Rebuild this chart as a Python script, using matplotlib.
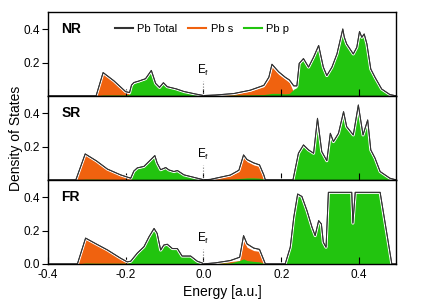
import numpy as np
import matplotlib
matplotlib.use('Agg')
import matplotlib.pyplot as plt
import matplotlib.patheffects as pe
from matplotlib.lines import Line2D

plt.rcParams['font.family'] = ['Liberation Sans', 'DejaVu Sans']

# --- NR panel ---
E_nr = [-0.40, -0.276, -0.258, -0.23, -0.20, -0.19, -0.185, -0.179, -0.165, -0.149,
        -0.134, -0.123, -0.113, -0.103, -0.093, -0.07, -0.05, -0.02, 0.0, 0.03,
        0.078, 0.12, 0.155, 0.168, 0.176, 0.193, 0.21, 0.221, 0.232, 0.24,
        0.246, 0.257, 0.27, 0.283, 0.296, 0.308, 0.317, 0.33, 0.343, 0.358,
        0.362, 0.368, 0.385, 0.394, 0.401, 0.407, 0.413, 0.42, 0.43, 0.441,
        0.458, 0.479, 0.495]
s_nr = [0, 0, 0.135, 0.085, 0.02, 0.01, 0.005, 0.005, 0.005, 0.003,
        0.003, 0.003, 0.003, 0.003, 0.003, 0.002, 0.002, 0.001, 0.0, 0.003,
        0.01, 0.028, 0.055, 0.10, 0.175, 0.13, 0.10, 0.08, 0.02, 0.01,
        0.005, 0.004, 0.003, 0.003, 0.003, 0.003, 0.002, 0.002, 0.002, 0.002,
        0.002, 0.002, 0.002, 0.002, 0.002, 0.002, 0.002, 0.002, 0.001, 0.001,
        0.001, 0.0, 0.0]
p_nr = [0, 0, 0.005, 0.005, 0.005, 0.01, 0.06, 0.075, 0.085, 0.10,
        0.15, 0.072, 0.048, 0.076, 0.052, 0.04, 0.024, 0.01, 0.002, 0.002,
        0.004, 0.006, 0.008, 0.012, 0.015, 0.015, 0.012, 0.015, 0.04, 0.05,
        0.19, 0.22, 0.17, 0.23, 0.30, 0.17, 0.12, 0.17, 0.25, 0.40,
        0.35, 0.31, 0.25, 0.29, 0.385, 0.35, 0.37, 0.31, 0.16, 0.11,
        0.04, 0.008, 0.0]

# --- SR panel ---
E_sr = [-0.40, -0.328, -0.304, -0.275, -0.247, -0.213, -0.187, -0.179, -0.17, -0.153,
        -0.14, -0.125, -0.119, -0.11, -0.097, -0.089, -0.076, -0.067, -0.05, -0.016,
        0.0, 0.018, 0.069, 0.091, 0.103, 0.112, 0.129, 0.144, 0.155, 0.159,
        0.20, 0.23, 0.244, 0.257, 0.27, 0.283, 0.293, 0.304, 0.317, 0.326,
        0.334, 0.347, 0.36, 0.368, 0.385, 0.398, 0.41, 0.422, 0.43, 0.441,
        0.454, 0.479, 0.495]
s_sr = [0, 0, 0.152, 0.11, 0.062, 0.028, 0.008, 0.005, 0.004, 0.003,
        0.003, 0.003, 0.003, 0.003, 0.002, 0.002, 0.002, 0.002, 0.002, 0.001,
        0.0, 0.002, 0.025, 0.05, 0.14, 0.11, 0.09, 0.08, 0.025, 0.0,
        0, 0, 0, 0, 0, 0, 0, 0, 0, 0,
        0, 0, 0, 0, 0, 0, 0, 0, 0, 0,
        0, 0, 0]
p_sr = [0, 0, 0.004, 0.004, 0.003, 0.002, 0.002, 0.048, 0.068, 0.078,
        0.108, 0.143, 0.098, 0.058, 0.072, 0.058, 0.048, 0.054, 0.028, 0.009,
        0.001, 0.001, 0.004, 0.008, 0.01, 0.012, 0.012, 0.01, 0.005, 0.0,
        0.0, 0.0, 0.16, 0.21, 0.18, 0.16, 0.37, 0.17, 0.115, 0.28,
        0.23, 0.28, 0.41, 0.32, 0.27, 0.45, 0.27, 0.36, 0.18, 0.13,
        0.05, 0.01, 0.0]

# --- FR panel ---
E_fr = [-0.40, -0.324, -0.303, -0.275, -0.247, -0.213, -0.196, -0.187, -0.17, -0.153,
        -0.14, -0.127, -0.119, -0.11, -0.102, -0.093, -0.08, -0.067, -0.055, -0.033,
        -0.016, -0.003, 0.0, 0.03, 0.069, 0.093, 0.103, 0.112, 0.129, 0.144,
        0.159, 0.21, 0.223, 0.232, 0.242, 0.253, 0.266, 0.279, 0.287, 0.296,
        0.303, 0.308, 0.315, 0.321, 0.381, 0.384, 0.39, 0.454, 0.484, 0.495]
s_fr = [0, 0, 0.15, 0.115, 0.08, 0.03, 0.008, 0.004, 0.003, 0.003,
        0.003, 0.003, 0.003, 0.003, 0.003, 0.003, 0.002, 0.002, 0.002, 0.002,
        0.001, 0.001, 0.0, 0.003, 0.014, 0.02, 0.14, 0.10, 0.08, 0.075,
        0.0, 0, 0, 0, 0, 0, 0, 0, 0, 0,
        0, 0, 0, 0, 0, 0, 0, 0, 0, 0]
p_fr = [0, 0, 0.005, 0.004, 0.004, 0.004, 0.004, 0.012, 0.062, 0.10,
        0.16, 0.21, 0.18, 0.08, 0.11, 0.115, 0.09, 0.09, 0.045, 0.045,
        0.015, 0.004, 0.0, 0.003, 0.006, 0.02, 0.03, 0.02, 0.015, 0.012,
        0.0, 0.0, 0.10, 0.28, 0.42, 0.405, 0.32, 0.22, 0.17, 0.26,
        0.24, 0.13, 0.10, 0.43, 0.43, 0.245, 0.43, 0.43, 0.0, 0.0]

panels = [('NR', E_nr, s_nr, p_nr), ('SR', E_sr, s_sr, p_sr), ('FR', E_fr, s_fr, p_fr)]

c_s = '#f0620f'
c_p = '#22c40f'
c_tot = '#333333'

fig = plt.figure(figsize=(4.31, 3.04), dpi=100)
axes = fig.subplots(3, 1, sharex=True)
fig.subplots_adjust(left=0.111, right=0.919, top=0.961, bottom=0.132, hspace=0)

for i, (name, E, s, p) in enumerate(panels):
    ax = axes[i]
    E = np.array(E)
    s = np.array(s)
    p = np.array(p)
    ax.fill_between(E, 0, s, color=c_s, lw=0)
    ax.fill_between(E, 0, p, color=c_p, lw=0)
    ax.plot(E, s + p, color=c_tot, lw=0.7,
            path_effects=[pe.withStroke(linewidth=2.2, foreground='white'), pe.Normal()])
    ax.plot([0, 0], [0, 0.09], color='#777777', lw=0.8, ls=':')
    ax.text(0.0, 0.15, r'E$_\mathregular{f}$', ha='center', va='center', fontsize=8.5)
    ax.text(-0.365, 0.40, name, fontsize=10, fontweight='bold', va='center')
    ax.set_xlim(-0.4, 0.495)
    ax.set_ylim(0, 0.505)
    if i < 2:
        ax.set_yticks([0.2, 0.4])
    else:
        ax.set_yticks([0.0, 0.2, 0.4])
    ax.set_xticks([-0.4, -0.2, 0.0, 0.2, 0.4])
    ax.tick_params(axis='y', direction='out', length=4, width=0.8, labelsize=8.5, pad=2)
    ax.tick_params(axis='x', direction='in', length=5, width=0.8, labelsize=8.5)
    for sp in ax.spines.values():
        sp.set_linewidth(1.0)

axes[2].set_xticklabels(['-0.4', '-0.2', '0.0', '0.2', '0.4'])
axes[2].set_xlabel('Energy [a.u.]', fontsize=10, labelpad=3)
fig.text(0.038, 0.546, 'Density of States', rotation=90, ha='center', va='center', fontsize=10)

handles = [Line2D([], [], color=c_tot, lw=1.5),
           Line2D([], [], color=c_s, lw=1.5),
           Line2D([], [], color=c_p, lw=1.5)]
axes[0].legend(handles, ['Pb Total', 'Pb s', 'Pb p'], ncol=3, frameon=False,
               loc='center', bbox_to_anchor=(0.443, 0.80), fontsize=8,
               handlelength=1.6, handletextpad=0.4, columnspacing=1.0)

fig.savefig('out.png', dpi=100)
